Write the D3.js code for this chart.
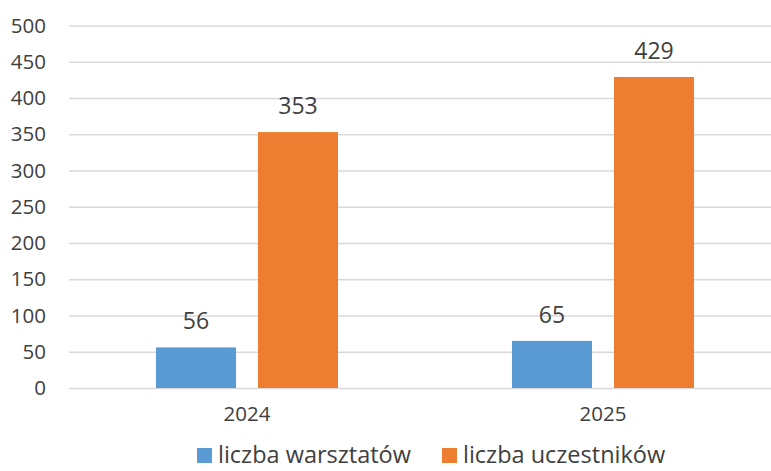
<!DOCTYPE html>
<html>
<head>
<meta charset="utf-8">
<script src="https://cdn.jsdelivr.net/npm/d3@7"></script>
<style>
  body { margin: 0; background: #fff; }
  text { font-family: "Open Sans", sans-serif; fill: #404040; }
</style>
</head>
<body>
<div id="chart"></div>
<script>
// values
let years = ["2024", "2025"];
let seriesNames = ["liczba warsztatów", "liczba uczestników"];
let workshops = [56, 65];
let participants = [353, 429];
let yTicks = [0, 50, 100, 150, 200, 250, 300, 350, 400, 450, 500];
let colors = ["#5b9bd5", "#ed7d31"];

let W = 771, H = 471;
let plotLeft = 69, plotRight = 781, plotTop = 25.5, plotBottom = 388;

let svg = d3.select("#chart").append("svg")
    .attr("width", W)
    .attr("height", H);

let x = d3.scaleBand().domain(years).range([plotLeft, plotRight]);
let band = x.bandwidth();
let x1 = d3.scaleBand().domain(seriesNames)
    .range([band / 2 - 91, band / 2 + 91])
    .paddingInner(22 / 102);
let y = d3.scaleLinear().domain([0, 500]).range([plotBottom, plotTop]);

// gridlines + y labels
let yAxis = d3.axisLeft(y).tickValues(yTicks).tickSize(-(W - plotLeft)).tickPadding(23);
let gy = svg.append("g")
    .attr("transform", `translate(${plotLeft},0)`)
    .call(yAxis);
gy.select(".domain").remove();
gy.selectAll(".tick line").attr("stroke", "#d9d9d9").attr("stroke-width", 1.5);
gy.selectAll(".tick text")
    .attr("font-size", 20.5)
    .attr("fill", "#404040")
    .style("font-family", "'Open Sans', sans-serif");

// x labels
let xAxis = d3.axisBottom(x).tickSize(0).tickPadding(18);
let gx = svg.append("g")
    .attr("transform", `translate(0,${plotBottom})`)
    .call(xAxis);
gx.select(".domain").remove();
gx.selectAll(".tick text")
    .attr("font-size", 20.5)
    .attr("fill", "#404040")
    .style("font-family", "'Open Sans', sans-serif");

let rows = years.map((yr, i) => ({year: yr, vals: [workshops[i], participants[i]]}));

let groups = svg.selectAll(".grp")
    .data(rows)
    .enter().append("g")
    .attr("transform", d => `translate(${x(d.year)},0)`);

groups.selectAll("rect")
    .data(d => d.vals.map((v, j) => ({name: seriesNames[j], v: v, c: colors[j]})))
    .enter().append("rect")
    .attr("x", d => x1(d.name))
    .attr("width", x1.bandwidth())
    .attr("y", d => y(d.v))
    .attr("height", d => y(0) - y(d.v))
    .attr("fill", d => d.c);

// value labels
groups.selectAll(".lbl")
    .data(d => d.vals.map((v, j) => ({name: seriesNames[j], v: v})))
    .enter().append("text")
    .attr("x", d => x1(d.name) + x1.bandwidth() / 2)
    .attr("y", d => y(d.v) - 18)
    .attr("text-anchor", "middle")
    .attr("font-size", 23)
    .text(d => d.v);

// legend (nudged up a little so the text is not clipped at the bottom)
let legendX = [197, 442];
let leg = svg.selectAll(".leg")
    .data(seriesNames)
    .enter().append("g")
    .attr("transform", (d, i) => `translate(${legendX[i]},448)`);
leg.append("rect")
    .attr("width", 15).attr("height", 15)
    .attr("fill", (d, i) => colors[i]);
leg.append("text")
    .attr("x", 21)
    .attr("y", 14.5)
    .attr("font-size", 23.5)
    .text(d => d);
</script>
</body>
</html>
